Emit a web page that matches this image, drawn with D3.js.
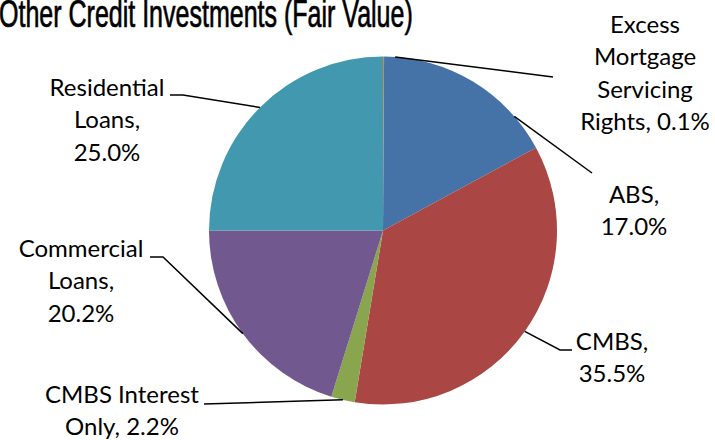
<!DOCTYPE html>
<html>
<head>
<meta charset="utf-8">
<script src="https://cdn.jsdelivr.net/npm/d3@7"></script>
<style>
  body { margin: 0; background: #fff; }
  svg { display: block; }
</style>
</head>
<body>
<svg id="piechart" width="715" height="440"></svg>
<script>
// data, clockwise from 12 o'clock
var categories = ["Excess Mortgage Servicing Rights", "ABS", "CMBS", "CMBS Interest Only", "Commercial Loans", "Residential Loans"];
var shares = [0.1, 17.0, 35.5, 2.2, 20.2, 25.0];
var labelLines = [
  ["Excess", "Mortgage", "Servicing", "Rights, 0.1%"],
  ["ABS,", "17.0%"],
  ["CMBS,", "35.5%"],
  ["CMBS Interest", "Only, 2.2%"],
  ["Commercial", "Loans,", "20.2%"],
  ["Residential", "Loans,", "25.0%"]
];
var colors = ["#DB843D", "#4572A7", "#AA4643", "#89A54E", "#71588F", "#4198AF"];

// label placement: text centre x, first baseline y, leader elbow + end, rim angle override (deg)
var layout = [
  {x: 645, y: 33, elbow: [553, 77], end: [553, 77], rimDeg: 4},
  {x: 634, y: 203, elbow: [592, 173], end: [592, 173], rimDeg: 49},
  {x: 612, y: 350, elbow: [560, 350], end: [572, 350]},
  {x: 122, y: 403, elbow: [204, 404], end: [204, 404]},
  {x: 81, y: 257, elbow: [163, 257], end: [150, 257]},
  {x: 107, y: 96, elbow: [183, 95], end: [170, 95]}
];

var svg = d3.select("#piechart"),
    cx = 383, cy = 230.5, radius = 174;

// title is a condensed face; squeeze Liberation Sans to the same width
var title = svg.append("text")
    .attr("x", 0)
    .attr("y", 27)
    .style("font", "38px 'Liberation Sans', Arial, sans-serif")
    .attr("fill", "#000")
    .attr("stroke", "#000")
    .attr("stroke-width", 0.7)
    .text("Other Credit Investments (Fair Value)");
var tw = title.node().getComputedTextLength();
title.attr("transform", "translate(-1,0) scale(" + (414 / tw) + ",1)");

var pie = d3.pie().sort(null).value(function(d) { return d; });
var arcs = pie(shares);
var arc = d3.arc().innerRadius(0).outerRadius(radius);

var g = svg.append("g").attr("transform", "translate(" + cx + "," + cy + ")");

g.selectAll("path")
  .data(arcs)
  .enter().append("path")
    .attr("d", arc)
    .attr("fill", function(d, i) { return colors[i]; });

// leader lines
arcs.forEach(function(a, i) {
  var L = layout[i];
  var ang = L.rimDeg != null ? L.rimDeg * Math.PI / 180 : (a.startAngle + a.endAngle) / 2;
  var rx = cx + radius * Math.sin(ang),
      ry = cy - radius * Math.cos(ang);
  svg.append("polyline")
    .attr("points", [[rx, ry], L.elbow, L.end].map(function(p) { return p.join(","); }).join(" "))
    .attr("fill", "none")
    .attr("stroke", "#000")
    .attr("stroke-width", 1.5);
});

// labels
var labels = svg.selectAll(".label")
  .data(labelLines)
  .enter().append("text")
    .attr("class", "label")
    .attr("text-anchor", "middle")
    .attr("fill", "#000")
    .style("font", "24px Lato, sans-serif");

labels.selectAll("tspan")
  .data(function(d, i) { return d.map(function(t) { return {t: t, i: i}; }); })
  .enter().append("tspan")
    .attr("x", function(d) { return layout[d.i].x; })
    .attr("y", function(d, j) { return layout[d.i].y + j * 32.4; })
    .text(function(d) { return d.t; });
</script>
</body>
</html>
